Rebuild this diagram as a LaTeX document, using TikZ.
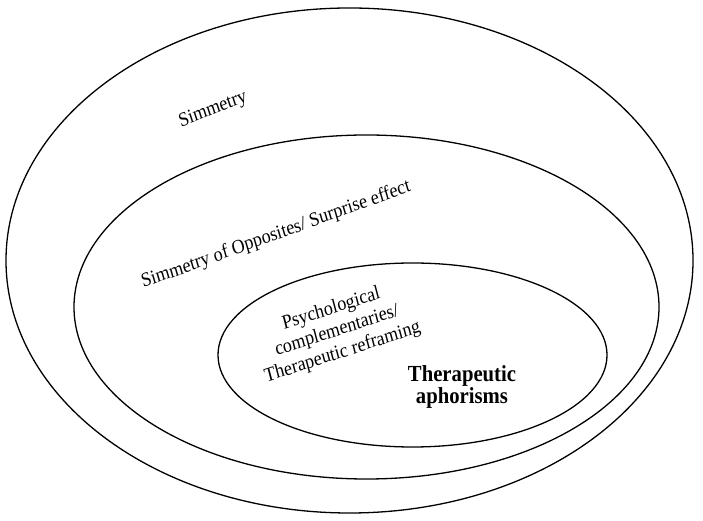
\documentclass[tikz,border=0pt]{standalone}
\usepackage{fontspec}
\setmainfont{Liberation Serif}
\usetikzlibrary{positioning}

\begin{document}
\begin{tikzpicture}[x=1pt,y=1pt,
  ring/.style={draw,line width=1.3pt},
  lab/.style={inner sep=1pt,align=center,xscale=0.9,font=\fontsize{20}{22.5}\selectfont},
  core/.style={inner sep=1pt,align=center,xscale=0.9,font=\fontsize{23}{22}\selectfont\bfseries}]
\useasboundingbox (0,0) rectangle (703,521);
\draw[ring] (349.5,260.5) ellipse [x radius=343.5,y radius=252.5];
\draw[ring] (366.5,214) ellipse [x radius=292.5,y radius=172];
\draw[ring] (412.5,166) ellipse [x radius=194.5,y radius=92];
\node (sym) [lab,rotate=20] at (213,411) {Simmetry};
\node (opp) [lab,rotate=18] at (276,286) {Simmetry of Opposites/ Surprise effect};
\node (psy) [lab,rotate=16.3] at (337,190) {Psychological\\complementaries/\\Therapeutic reframing};
\node (aph) [core] at (462,134) {Therapeutic\\aphorisms};
\end{tikzpicture}
\end{document}
